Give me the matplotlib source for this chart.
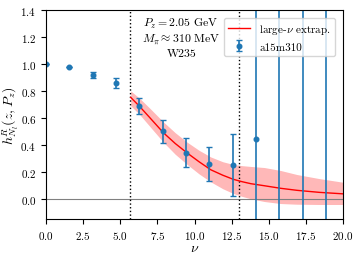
import numpy as np
import matplotlib
matplotlib.use("Agg")
import matplotlib.pyplot as plt

plt.rcParams['font.family'] = 'serif'
plt.rcParams['font.serif'] = ['cmr10']
plt.rcParams['mathtext.fontset'] = 'cm'
plt.rcParams['axes.formatter.use_mathtext'] = True

# lattice data (a15m310)
nu = [0.0, 1.571, 3.142, 4.712, 6.283, 7.854, 9.425, 10.996, 12.566, 14.137, 15.708, 17.279, 18.850]
h = [1.0, 0.98, 0.918, 0.857, 0.69, 0.50, 0.343, 0.257, 0.252, 0.444, 1.9, -0.6, 2.2]
h_err = [0.0, 0.0, 0.02, 0.035, 0.06, 0.088, 0.107, 0.126, 0.23, 3.0, 4.0, 4.0, 4.0]

# large-nu extrapolation curve and band
nu_fit = [5.7, 6.3, 7.0, 7.9, 8.7, 9.5, 10.3, 11.1, 11.9, 12.6, 13.2, 13.8, 14.7, 15.8, 16.9, 18.4, 20.0]
h_fit = [0.752, 0.685, 0.60, 0.49, 0.41, 0.34, 0.275, 0.215, 0.175, 0.145, 0.127, 0.112, 0.097, 0.078, 0.063, 0.048, 0.037]
h_up = [0.80, 0.745, 0.67, 0.57, 0.49, 0.42, 0.36, 0.31, 0.275, 0.255, 0.246, 0.24, 0.232, 0.21, 0.18, 0.15, 0.123]
h_lo = [0.69, 0.625, 0.535, 0.42, 0.33, 0.255, 0.185, 0.125, 0.075, 0.04, 0.018, 0.0, -0.02, -0.035, -0.04, -0.042, -0.042]

nu_min, nu_max = 5.66, 13.0

fig = plt.figure(figsize=(3.57, 2.55), dpi=100)
ax = fig.add_axes([0.129, 0.137, 0.832, 0.82])

ax.axhline(0, color='gray', lw=0.8)
ax.axvline(nu_min, color='k', ls=':', lw=1)
ax.axvline(nu_max, color='k', ls=':', lw=1)

ax.fill_between(nu_fit, h_lo, h_up, color='red', alpha=0.28, lw=0)
ax.plot(nu_fit, h_fit, color='red', lw=1, label=r'large-$\nu$ extrap.')
ax.errorbar(nu, h, yerr=h_err, fmt='o', ms=3.3, color='tab:blue', capsize=2, elinewidth=1.2, capthick=1, label='a15m310')

ax.text(9.1, 1.3, r'$P_z = 2.05$ GeV', ha='center', va='center', fontsize=8.5)
ax.text(9.1, 1.19, r'$M_\pi \approx 310$ MeV', ha='center', va='center', fontsize=8.5)
ax.text(9.1, 1.08, 'W235', ha='center', va='center', fontsize=8.5)

ax.set_xlim(0, 20)
ax.set_ylim(-0.15, 1.4)
ax.set_xticks([0, 2.5, 5, 7.5, 10, 12.5, 15, 17.5, 20])
ax.set_yticks([0, 0.2, 0.4, 0.6, 0.8, 1.0, 1.2, 1.4])
ax.tick_params(labelsize=8)
ax.set_xlabel(r'$\nu$', fontsize=10, labelpad=1)
ax.set_ylabel(r'$\tilde{h}^R_{N_l}(z,P_z)$', fontsize=10)
ax.yaxis.set_label_coords(-0.084, 0.5)
ax.legend(loc='upper right', fontsize=8, framealpha=0.8, borderaxespad=0.7)

fig.savefig('out.png', dpi=100)
